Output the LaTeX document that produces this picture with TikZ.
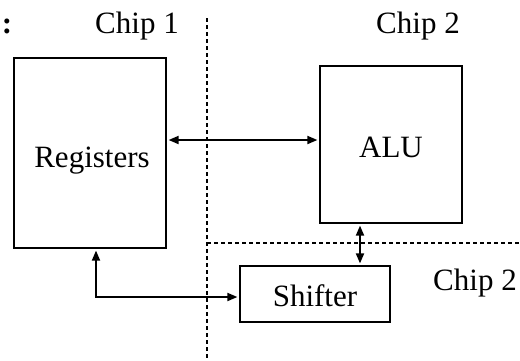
\documentclass[tikz,border=0pt]{standalone}
\usepackage{fontspec}
\setmainfont{Liberation Serif}
\usetikzlibrary{arrows.meta}
\begin{document}
\begin{tikzpicture}[x=1pt,y=-1pt,
  box/.style={draw,line width=2.2pt,inner sep=0pt},
  lbl/.style={inner sep=0pt,anchor=base,font=\fontsize{31}{36}\selectfont},
  divider/.style={line width=1.7pt,dash pattern=on 4pt off 3pt},
  conn/.style={line width=1.8pt,shorten <=1.5pt,shorten >=1.5pt,{Triangle[length=10pt,width=8pt]}-{Triangle[length=10pt,width=8pt]}}]
\useasboundingbox (0,0) rectangle (520,360);
% boxes
\node[box,minimum width=152pt,minimum height=190pt] (reg) at (90,153) {};
\node[box,minimum width=142pt,minimum height=157pt] (alu) at (391,144.5) {};
\node[box,minimum width=150pt,minimum height=56pt] (shf) at (315,294) {};
% labels
\node[lbl] (tReg) at (92,167) {Registers};
\node[lbl] (tAlu) at (391,157) {ALU};
\node[lbl] (tShf) at (315,306) {Shifter};
\node[lbl] (colon) at (7,33) {\textbf{:}};
\node[lbl] (chip1) at (137,33) {Chip 1};
\node[lbl] (chip2a) at (418,33) {Chip 2};
\node[lbl] (chip2b) at (475,290) {Chip 2};
% dividers
\coordinate (vTop) at (207,18);
\coordinate (vBot) at (207,360);
\coordinate (hL) at (207,243);
\coordinate (hR) at (520,243);
\draw[divider] (vTop) -- (vBot);
\draw[divider] (hL) -- (hR);
% connectors
\coordinate (y1) at (0,140);
\draw[conn] (reg.east |- y1) -- (alu.west |- y1);
\coordinate (x2) at (360,0);
\draw[conn] (alu.south -| x2) -- (shf.north -| x2);
\coordinate (x3) at (96,0);
\coordinate (y3) at (0,297);
\draw[conn] (reg.south -| x3) |- (shf.west |- y3);
\end{tikzpicture}
\end{document}
